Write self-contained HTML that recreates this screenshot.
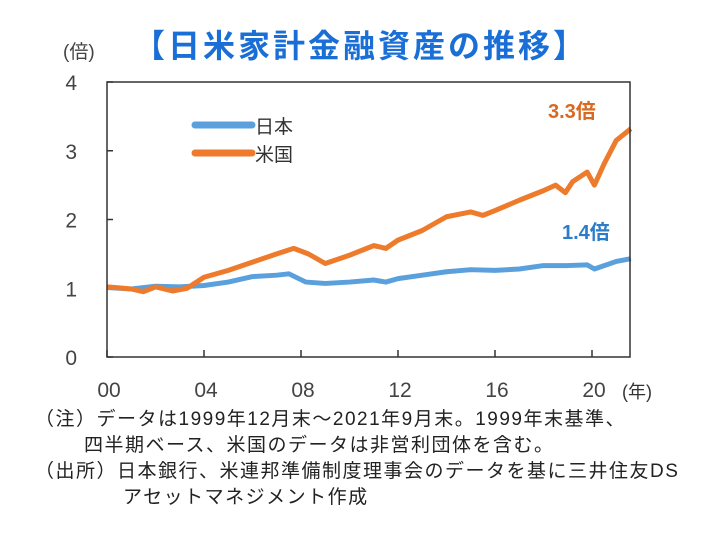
<!DOCTYPE html>
<html><head><meta charset="utf-8"><style>
html,body{margin:0;padding:0;background:#fff;}
body{width:714px;height:545px;overflow:hidden;font-family:"Liberation Sans","Noto Sans CJK JP",sans-serif;}
svg{position:absolute;left:0;top:0;}
.note{position:absolute;font-size:19px;letter-spacing:1.5px;color:#222;white-space:nowrap;font-family:"Liberation Sans","Noto Sans CJK JP",sans-serif;line-height:20px;}
</style></head><body>
<svg width="714" height="545" id="chart">
<text x="63" y="58" font-size="19" fill="#444" font-family="Liberation Sans, Noto Sans CJK JP, sans-serif">(倍)</text>
<text x="133" y="57" font-size="32" font-weight="bold" fill="#1a6fd6" font-family="Liberation Sans, Noto Sans CJK JP, sans-serif" textLength="452">【日米家計金融資産の推移】</text>
<g id="axes"></g>
<g id="series"></g>
<rect x="107" y="82" width="523" height="275" fill="none" stroke="#333" stroke-width="1.5"/>
<line x1="195" y1="125" x2="252" y2="125" stroke="#5aa0dc" stroke-width="7" stroke-linecap="round"/>
<text x="255" y="133" font-size="19" fill="#333" font-family="Liberation Sans, Noto Sans CJK JP, sans-serif">日本</text>
<line x1="195" y1="153" x2="252" y2="153" stroke="#ee7a2b" stroke-width="7" stroke-linecap="round"/>
<text x="255" y="161" font-size="19" fill="#333" font-family="Liberation Sans, Noto Sans CJK JP, sans-serif">米国</text>
<text x="548" y="118" font-size="20" font-weight="bold" fill="#d9691f" font-family="Liberation Sans, Noto Sans CJK JP, sans-serif">3.3倍</text>
<text x="562" y="239" font-size="20" font-weight="bold" fill="#2b7cc9" font-family="Liberation Sans, Noto Sans CJK JP, sans-serif">1.4倍</text>
<text x="622" y="398" font-size="18" fill="#333" font-family="Liberation Sans, Noto Sans CJK JP, sans-serif">(年)</text>
</svg>
<div class="note" style="left:35px;top:410px">（注）データは1999年12月末～2021年9月末。1999年末基準、</div>
<div class="note" style="left:84px;top:436px">四半期ベース、米国のデータは非営利団体を含む。</div>
<div class="note" style="left:35px;top:462px">（出所）日本銀行、米連邦準備制度理事会のデータを基に三井住友DS</div>
<div class="note" style="left:123px;top:488px">アセットマネジメント作成</div>
<script>
const usYears=[2000,2001,2001.5,2002,2002.7,2003.3,2004,2005,2006,2007,2007.7,2008.3,2009,2010,2011,2011.5,2012,2013,2014,2015,2015.5,2016,2017,2018,2018.5,2018.9,2019.2,2019.8,2020.1,2020.5,2021,2021.6];
const usValues=[1.02,0.99,0.95,1.02,0.96,1.0,1.16,1.26,1.38,1.5,1.58,1.5,1.36,1.48,1.62,1.58,1.7,1.84,2.04,2.11,2.06,2.13,2.28,2.42,2.5,2.39,2.55,2.69,2.5,2.81,3.15,3.32];
const jpYears=[2000,2001,2002,2003,2004,2005,2006,2007,2007.5,2008.2,2009,2010,2011,2011.5,2012,2013,2014,2015,2016,2017,2018,2019,2019.8,2020.1,2021,2021.6];
const jpValues=[1.01,0.99,1.03,1.02,1.04,1.09,1.17,1.19,1.21,1.09,1.07,1.09,1.12,1.09,1.14,1.19,1.24,1.27,1.26,1.28,1.33,1.33,1.34,1.28,1.39,1.43];
const yTicks=[0,1,2,3,4];
const xTicks=[2000,2004,2008,2012,2016,2020];
const xTickLabels=["00","04","08","12","16","20"];
const NS="http://www.w3.org/2000/svg";
const X=v=>107+(v-2000)*24.25;
const Y=v=>357-v*68.75;
const axes=document.getElementById('axes');
yTicks.forEach(t=>{
  const l=document.createElementNS(NS,'line');
  
  
  l.setAttribute('x1',107);l.setAttribute('x2',113);l.setAttribute('y1',Y(t));l.setAttribute('y2',Y(t));l.setAttribute('stroke','#333');l.setAttribute('stroke-width','1.5');
  axes.appendChild(l);
  const tx=document.createElementNS(NS,'text');
  
  
  tx.setAttribute('x',77);tx.setAttribute('y',Y(t)+8);tx.setAttribute('text-anchor','end');tx.setAttribute('font-size','21');tx.setAttribute('fill','#444');
  tx.textContent=t;axes.appendChild(tx);
});
xTicks.forEach((t,i)=>{
  const l=document.createElementNS(NS,'line');
  
  
  l.setAttribute('x1',X(t));l.setAttribute('x2',X(t));l.setAttribute('y1',357);l.setAttribute('y2',350);l.setAttribute('stroke','#333');l.setAttribute('stroke-width','1.5');
  axes.appendChild(l);
  const tx=document.createElementNS(NS,'text');
  
  
  tx.setAttribute('x',X(t)+2);tx.setAttribute('y',397);tx.setAttribute('text-anchor','middle');tx.setAttribute('font-size','21');tx.setAttribute('fill','#444');
  tx.textContent=xTickLabels[i];axes.appendChild(tx);
});
const ser=document.getElementById('series');
function line(xs,ys,color,name){
  const p=document.createElementNS(NS,'polyline');
  
  
  p.setAttribute('points',xs.map((x,i)=>X(x)+','+Y(ys[i])).join(' '));
  p.setAttribute('fill','none');p.setAttribute('stroke',color);p.setAttribute('stroke-width','5');p.setAttribute('stroke-linejoin','round');
  ser.appendChild(p);
}
line(jpYears,jpValues,'#5aa0dc','japan-line');
line(usYears,usValues,'#ee7a2b','us-line');
</script>
</body></html>
